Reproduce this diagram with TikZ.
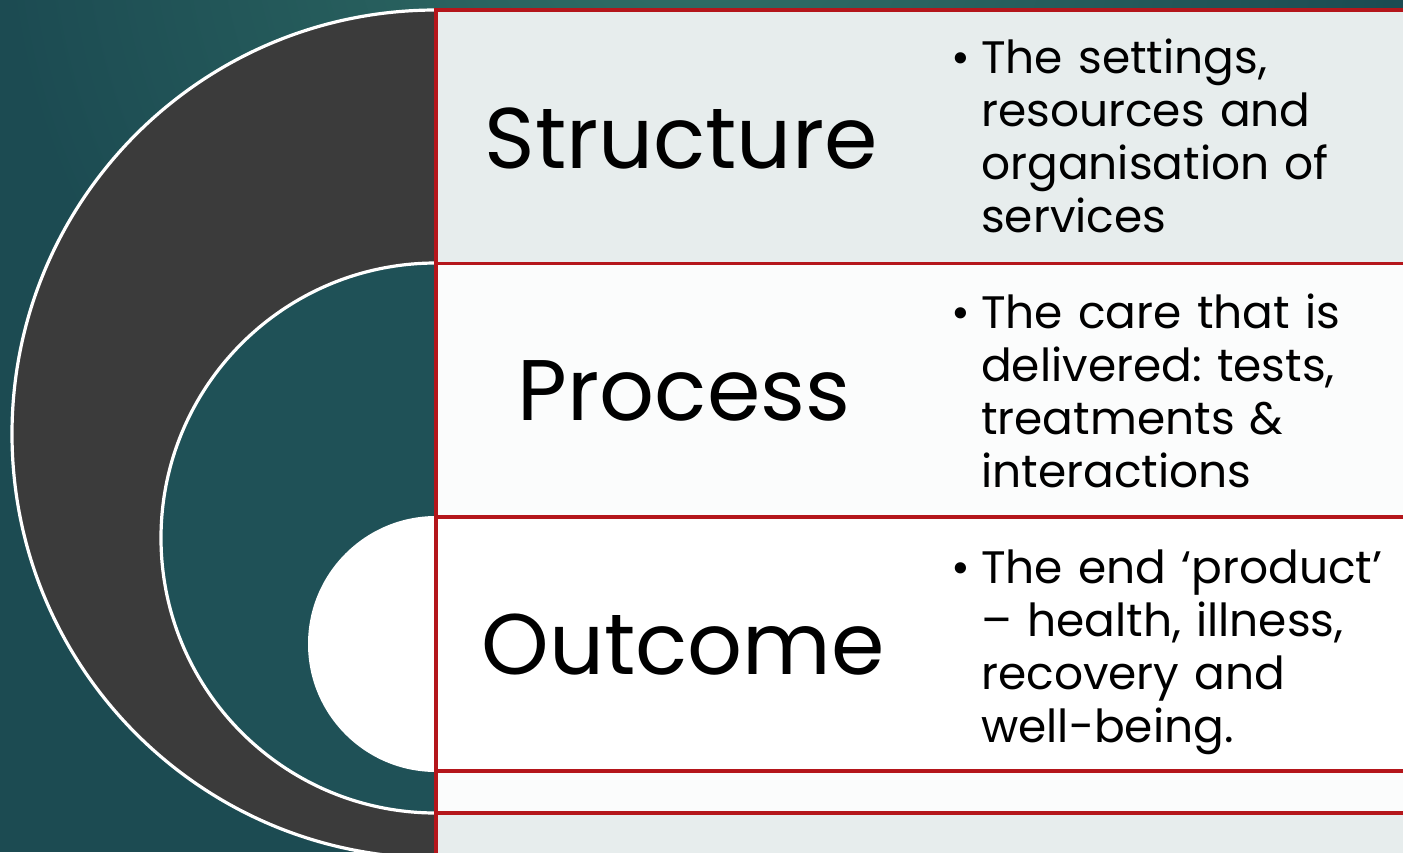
\documentclass[tikz,border=0pt]{standalone}
\usepackage{fontspec}
\setmainfont{Poppins}
\usetikzlibrary{positioning}
\definecolor{tealdark}{HTML}{1C4B52}
\definecolor{teallight}{HTML}{317067}
\definecolor{ringgrey}{HTML}{3B3B3B}
\definecolor{ringteal}{HTML}{1F5157}
\definecolor{boxred}{HTML}{B4161B}
\definecolor{boxgrey}{HTML}{E7EDED}
\definecolor{boxwhite}{HTML}{FBFCFC}

\tikzset{
  rowframe/.style={draw=boxred, line width=3.5pt},
  ringline/.style={draw=white, line width=3.2pt},
  title/.style={font=\fontsize{86}{86}\selectfont, anchor=base, inner sep=0pt},
  desc/.style={font=\fontsize{45.5}{53}\selectfont\frenchspacing, anchor=base west, text width=430pt, align=left, inner sep=0pt},
}

\begin{document}
\begin{tikzpicture}[x=1pt,y=-1pt]
    \useasboundingbox (0,0) rectangle (1403,852);
    \clip (0,0) rectangle (1403,852);

    % background
    \fill[tealdark] (0,0) rectangle (1403,852);
    \shade[inner color=teallight, outer color=tealdark] (0,-800) rectangle (1400,600);

    % nested half discs
    \filldraw[fill=ringgrey, ringline] (436,10) arc[start angle=90, end angle=270, radius=424pt] -- cycle;
    \filldraw[fill=ringteal, ringline] (436,263) arc[start angle=90, end angle=270, radius=275pt] -- cycle;
    \fill[white] (436,516) arc[start angle=90, end angle=270, radius=128pt] -- cycle;

    % rows
    \fill[boxgrey] (436,10) rectangle (1420,263.5);
    \fill[boxwhite] (436,263.5) rectangle (1420,517);
    \fill[white] (436,517) rectangle (1420,771);
    \fill[boxwhite] (436,771) rectangle (1420,813);
    \fill[boxgrey] (436,813) rectangle (1420,870);
    \foreach \top/\bot in {10/263.5, 263.5/517, 517/771, 771/813, 813/870}
        \draw[rowframe] (436,\top) rectangle (1420,\bot);

    \node[title] (structure) at (681,168) {Structure};
    \node[title] (process) at (684,420) {Process};
    \node[title] (outcome) at (683,674) {Outcome};

    \node[desc] (structuredesc) at (981,73) {\llap{•\hspace{11pt}}The settings,\\resources and\\organisation of\\services};
    \node[desc] (processdesc) at (981,328) {\llap{•\hspace{11pt}}The care that is\\delivered: tests,\\treatments \&\\interactions};
    \node[desc] (outcomedesc) at (981,583) {\llap{•\hspace{11pt}}The end ‘product’\\– health, illness,\\recovery and\\well-being.};
\end{tikzpicture}
\end{document}
